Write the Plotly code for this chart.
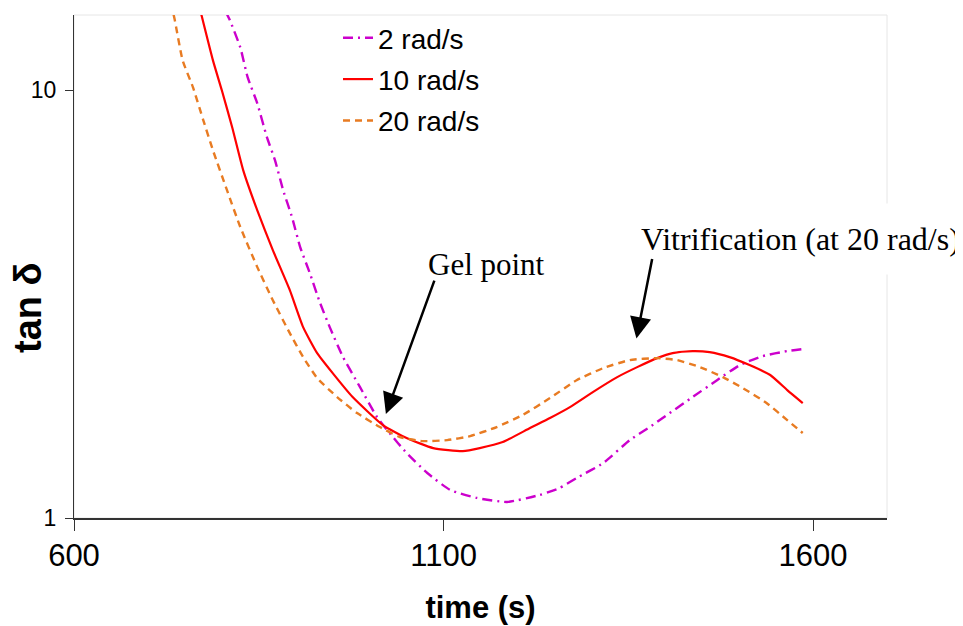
import math
import plotly.graph_objects as go

# ---- data ----
t_2 = [805, 811, 825, 835, 848, 861, 872, 883, 895, 906, 919, 933, 946, 964, 987, 1010, 1027, 1050, 1078, 1109,
       1145, 1186, 1230, 1257, 1280, 1316, 1352, 1379, 1406, 1437, 1470, 1501, 1532, 1565, 1586]
tan_2 = [15.3, 14.57, 12.6, 10.72, 9.32, 7.77, 6.86, 5.84, 5.05, 4.30, 3.74, 3.18, 2.795, 2.378, 2.023, 1.722, 1.58,
         1.419, 1.274, 1.163, 1.114, 1.090, 1.132, 1.175, 1.240, 1.344, 1.521, 1.632, 1.759, 1.918, 2.10, 2.278,
         2.391, 2.456, 2.483]

t_10 = [770, 788, 800, 814, 829, 848, 869, 892, 910, 929, 950, 977, 1018, 1050, 1086, 1126, 1149, 1180, 1217, 1244,
        1271, 1302, 1335, 1362, 1389, 1410, 1437, 1460, 1487, 1514, 1542, 1565, 1586]
tan_10 = [15.6, 11.75, 10.0, 8.20, 6.50, 5.24, 4.23, 3.41, 2.795, 2.43, 2.182, 1.918, 1.649, 1.538, 1.457, 1.434,
          1.457, 1.505, 1.623, 1.713, 1.817, 1.970, 2.135, 2.253, 2.365, 2.43, 2.456, 2.443, 2.378, 2.278, 2.159,
          1.991, 1.857]

t_20 = [731, 736, 747, 761, 775, 788, 807, 825, 848, 869, 892, 910, 929, 956, 983, 1014, 1041, 1072, 1105, 1136,
        1172, 1207, 1244, 1280, 1316, 1352, 1389, 1416, 1447, 1478, 1505, 1537, 1565, 1586]
tan_20 = [16.0, 14.7, 11.75, 10.16, 8.51, 7.24, 5.84, 4.79, 3.86, 3.23, 2.705, 2.378, 2.124, 1.918, 1.759, 1.632,
          1.546, 1.513, 1.521, 1.554, 1.632, 1.741, 1.907, 2.10, 2.241, 2.34, 2.365, 2.34, 2.253, 2.135, 2.012,
          1.857, 1.694, 1.58]

series_names = ["2 rad/s", "10 rad/s", "20 rad/s"]
x_ticks = [600, 1100, 1600]
y_ticks = [1, 10]

gel_point = (1022, 1.75)
vitrification_point = (1361, 2.63)

fig = go.Figure()
fig.add_trace(go.Scatter(x=t_2, y=tan_2, mode="lines", name=series_names[0],
                         legendgroup="a",
                         line=dict(color="#CC00CC", width=2.4, dash="10px,5px,2px,5px",
                                   shape="spline", smoothing=0.5)))
fig.add_trace(go.Scatter(x=t_10, y=tan_10, mode="lines", name=series_names[1],
                         legendgroup="b",
                         line=dict(color="#FF0000", width=2.2, shape="spline", smoothing=0.5)))
fig.add_trace(go.Scatter(x=t_20, y=tan_20, mode="lines", name=series_names[2],
                         legendgroup="c",
                         line=dict(color="#E87B22", width=2.4, dash="7px,5px",
                                   shape="spline", smoothing=0.5)))

# light border of plot area (top/right visible)
fig.add_shape(type="rect", xref="paper", yref="paper", x0=0, x1=1, y0=0, y1=1,
              line=dict(color="#E6E6E6", width=1), layer="below")

# page offset of the figure (browser body margin)
OFF = 8
# plot area position on the page
PL, PT, PR, PB = 74, 15, 887, 518
W, H = 963 - OFF, 626 - OFF
L, T = PL - OFF, PT - OFF
R, B = W + OFF - PR, H + OFF - PB
pw, ph = PR - PL, PB - PT


def px_to_paper(px, py):
    return (px - PL) / pw, 1 - (py - PT) / ph


serif = "Liberation Serif, Times New Roman, serif"
sans = "Liberation Sans, Arial, sans-serif"
gx, gy = px_to_paper(486, 264)
vx, vy = px_to_paper(800, 239)
yx, yy = px_to_paper(28, 308)
fig.add_annotation(x=gx, y=gy, xref="paper", yref="paper", text="Gel point",
                   xanchor="center", yanchor="middle",
                   showarrow=False, font=dict(family=serif, size=31, color="black"))
fig.add_annotation(text="Vitrification (at 20 rad/s)", showarrow=False,
                   x=vx, y=vy, xref="paper", yref="paper",
                   xanchor="center", yanchor="middle",
                   font=dict(family=serif, size=32, color="black"),
                   bgcolor="white", borderpad=17)
fig.add_annotation(x=gel_point[0], y=math.log10(gel_point[1]), text="",
                   showarrow=True, ax=49, ay=-135, arrowhead=2, arrowsize=1.7,
                   arrowwidth=2.5, arrowcolor="black")
fig.add_annotation(x=vitrification_point[0], y=math.log10(vitrification_point[1]), text="",
                   showarrow=True, ax=16, ay=-81, arrowhead=2, arrowsize=1.7,
                   arrowwidth=2.5, arrowcolor="black")
# y-axis title placed as in the reference (below the axis centre)
fig.add_annotation(x=yx, y=yy, xref="paper", yref="paper", text="<b>tan δ</b>",
                   textangle=-90, xanchor="center", yanchor="middle", showarrow=False,
                   font=dict(family=sans, size=38, color="black"))

fig.update_layout(
    width=W, height=H,
    margin=dict(l=L, r=R, t=T, b=B, autoexpand=False),
    paper_bgcolor="white", plot_bgcolor="white",
    font=dict(family=sans, color="black"),
    showlegend=True,
    legend=dict(x=(338 - PL) / pw, y=1.004, xanchor="left", yanchor="top",
                bgcolor="rgba(0,0,0,0)", font=dict(size=28, family=sans),
                traceorder="grouped", tracegroupgap=2),
    xaxis=dict(range=[600, 1700], tickvals=x_ticks, ticktext=[str(v) for v in x_ticks],
               automargin=False,
               showgrid=False, zeroline=False, showline=True, linecolor="#333333",
               linewidth=1.5, ticks="outside", ticklen=11, tickcolor="#333333",
               tickfont=dict(size=31, family=sans), ticklabelstandoff=-2,
               title=dict(text="<b>time (s)</b>", font=dict(size=31, family=sans), standoff=24)),
    yaxis=dict(type="log", range=[0, math.log10(15)], tickvals=y_ticks,
               ticktext=[str(v) for v in y_ticks], automargin=False,
               showgrid=False, zeroline=False, showline=True, linecolor="#333333",
               linewidth=1.2, ticks="outside", ticklen=8, tickcolor="#333333",
               tickfont=dict(size=23, family=sans), ticklabelstandoff=4),
)

fig.write_html("out.html")
